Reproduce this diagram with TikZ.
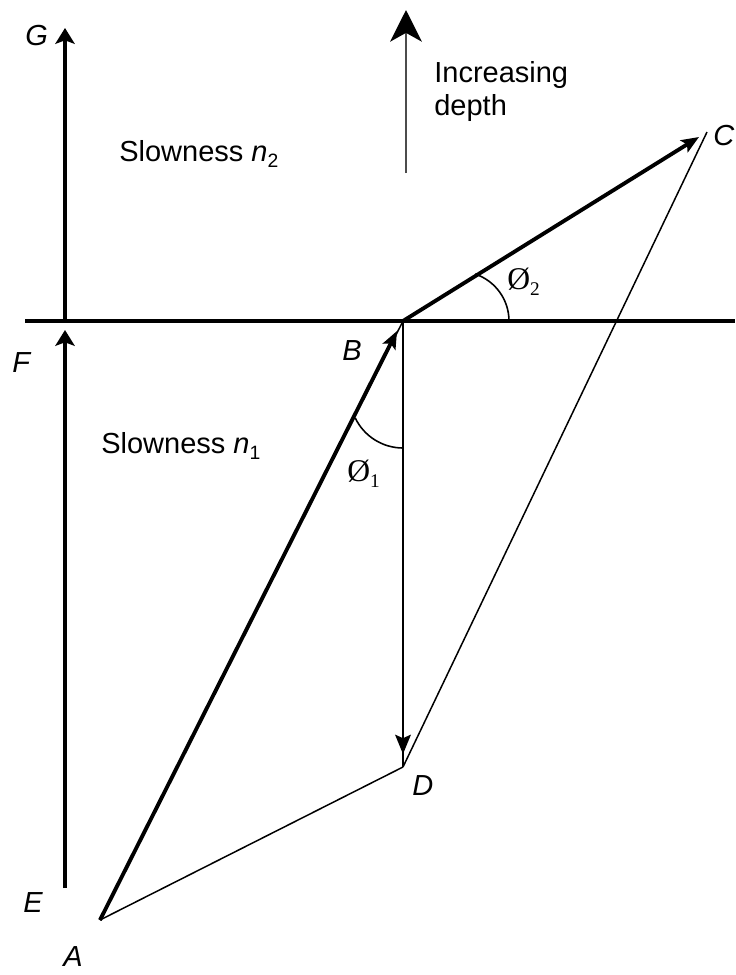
\documentclass[tikz,border=0pt]{standalone}
\usepackage{fontspec}
\setmainfont{Liberation Sans}
\newfontfamily\phifont{Liberation Serif}
\usepackage{tikz}
\usetikzlibrary{arrows.meta}

\newcommand{\lowidx}[1]{\raisebox{-0.45ex}{\fontsize{11}{11}\selectfont #1}}

\begin{document}
\begin{tikzpicture}[
  x=0.02cm, y=-0.02cm,
  font=\fontsize{16.5}{19}\selectfont,
  axisline/.style={line width=2.5pt, -{Stealth[length=9pt,width=11pt,inset=2pt]}},
  interface/.style={line width=2.8pt},
  vecthick/.style={line width=2.2pt, -{Stealth[length=10pt,width=8pt,inset=2pt]}},
  vecthin/.style={line width=0.85pt},
  anglearc/.style={line width=0.9pt},
  ptlabel/.style={anchor=base west, inner sep=0pt, font=\fontsize{16.5}{19}\selectfont\itshape},
  txt/.style={anchor=base west, inner sep=0pt},
  phitxt/.style={anchor=base west, inner sep=0pt, font=\fontsize{18}{20}\phifont}
]
\useasboundingbox (0,0) rectangle (735,975);
% points
\coordinate (A) at (100,920);
\coordinate (B) at (403,321);
\coordinate (Btip) at (397,331);
\coordinate (C) at (707,132);
\coordinate (Ctip) at (699,137);
\coordinate (D) at (403,767);
\coordinate (Dtip) at (403,754);
\coordinate (E) at (65,888);
\coordinate (F) at (65,321);
\coordinate (Ftip) at (65,330);
\coordinate (G) at (65,28);
\coordinate (west) at (25,321);
\coordinate (east) at (735,321);
\coordinate (depthlow) at (406,173);
\coordinate (depthtop) at (406,10);
% axis
\draw[interface] (west) -- (east);
\draw[axisline] (E) -- (Ftip);
\draw[axisline] (F) -- (G);
\draw[line width=1.3pt, black!70, -{Stealth[length=18pt,width=18pt,inset=5pt,black]}] (depthlow) -- (depthtop);
% vectors
\draw[vecthin] (A) -- (B);
\draw[vecthick] (A) -- (Btip);
\draw[vecthick] (B) -- (Ctip);
\draw[vecthin] (C) -- (D);
\draw[vecthin] (A) -- (D);
\draw[vecthin] (B) -- (D);
\draw[vecthin, -{Stealth[length=11pt,width=9pt,inset=2pt]}] (B) -- (Dtip);
% angles
\draw[anglearc] (403,395) ++(154.4:53) arc[start angle=154.4, end angle=90, radius=53];
\draw[anglearc] (459.5,321) ++(-71.7:49.5) arc[start angle=-71.7, end angle=0, radius=49.5];
% labels
\node[ptlabel] (labG) at (25,45) {G};
\node[ptlabel] (labF) at (12,372) {F};
\node[ptlabel] (labE) at (23,912) {E};
\node[ptlabel] (labA) at (63,966) {A};
\node[ptlabel] (labB) at (342,360) {B};
\node[ptlabel] (labC) at (713,145) {C};
\node[ptlabel] (labD) at (412,795) {D};
\node[phitxt] (phitwo) at (507,289) {Ø\lowidx{2}};
\node[phitxt] (phione) at (347,481) {Ø\lowidx{1}};
\node[txt] (slowtwo) at (119,161) {Slowness \textit{n}\lowidx{2}};
\node[txt] (slowone) at (101,453) {Slowness \textit{n}\lowidx{1}};
\node[txt, align=left, anchor=north west, inner sep=0pt] (depth) at (434,61) {Increasing\\depth};
\end{tikzpicture}
\end{document}
